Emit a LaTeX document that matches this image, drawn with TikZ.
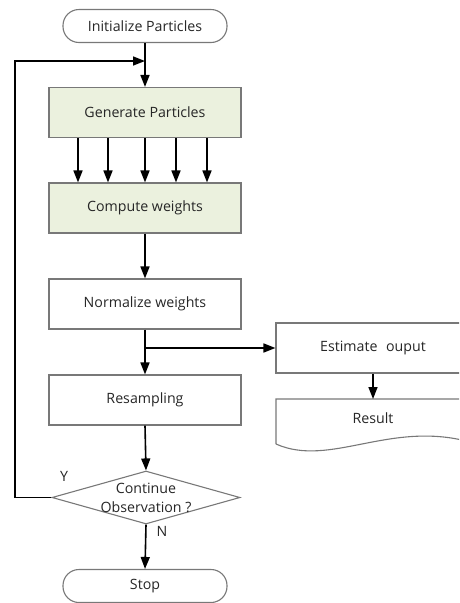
\documentclass[tikz,border=0pt]{standalone}
\usepackage{fontspec}
\setmainfont{Open Sans}
\usetikzlibrary{shapes.geometric,arrows.meta}
\definecolor{boxgreen}{RGB}{235,241,222}
\definecolor{edgegray}{RGB}{120,120,120}
\begin{document}
\begin{tikzpicture}[x=1pt,y=-1pt,
  font=\fontsize{14.2}{19}\selectfont,
  every node/.style={text=black!85},
  procbox/.style={draw=edgegray,line width=1.1pt,minimum width=192pt,minimum height=50pt,inner sep=0pt},
  greenbox/.style={procbox,fill=boxgreen},
  termbox/.style={draw=edgegray,line width=1.1pt,rounded corners=16pt,minimum width=164pt,minimum height=33pt,inner sep=0pt},
  decbox/.style={diamond,draw=edgegray,line width=1.1pt,minimum width=188pt,minimum height=53pt,inner sep=0pt},
  arr/.style={draw=black,line width=1.6pt,-{Triangle[length=12pt,width=9pt]}}]
\useasboundingbox (0,0) rectangle (459,603);
\clip (0,0) rectangle (459,603);
\node[termbox] (init) at (145,26) {Initialize Particles};
\node[greenbox] (gen) at (145,112.5) {Generate Particles};
\node[greenbox] (comp) at (145,208) {Compute weights};
\node[procbox] (norm) at (145,304) {Normalize weights};
\node[procbox] (res) at (145,400) {Resampling};
\node[procbox,minimum width=194pt] (est) at (373,348) {Estimate\hspace{0.6em}ouput};
\node[inner sep=0pt] (result) at (373,418) {Result};
\node[decbox] (dia) at (146,497.5) {};
\node[align=center,inner sep=0pt] (diatext) at (dia.center) {Continue\\Observation ?};
\node[termbox] (stop) at (145,586) {Stop};
\node (ylab) at (64,476) {Y};
\node (nlab) at (162,531) {N};
\coordinate (loopend) at (145,61);
\coordinate (loopcorner) at (15,61);
\coordinate (br) at (145,348);
\coordinate (resnw) at (276,399);
\coordinate (resne) at (470,399);
% result document shape
\draw[edgegray,line width=1.1pt] (276,444) -- (resnw) -- (resne) -- (470,442)
  .. controls (390,420) and (330,468) .. (276,444);
% connectors
\draw[arr] (init.south) -- (gen.north);
\draw[arr] (dia.west) -| (loopcorner) -- (loopend);
\foreach \dx in {-67,-37,0,31,62}
  \draw[arr] ([xshift=\dx pt]gen.south) -- ([xshift=\dx pt]comp.north);
\draw[arr] (comp.south) -- (norm.north);
\draw[arr] (norm.south) -- (res.north);
\draw[arr] (br) -- (est.west);
\draw[arr] (est.south) -- (resnw -| est.south);
\draw[arr] (res.south) -- (dia.north);
\draw[arr] (dia.south) -- (stop.north);
\end{tikzpicture}
\end{document}
